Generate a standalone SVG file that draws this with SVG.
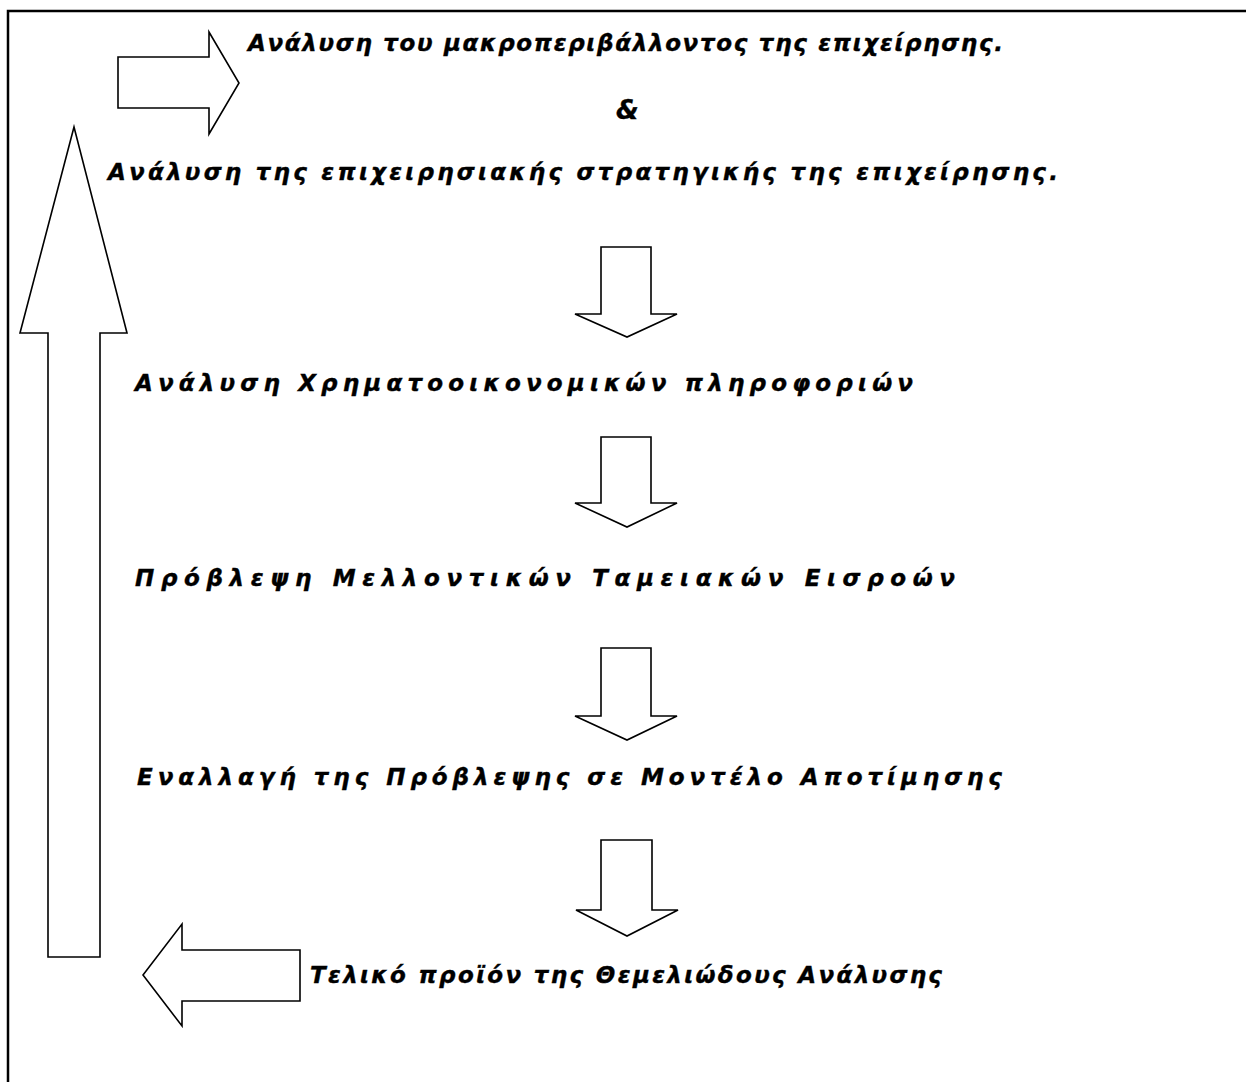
<svg xmlns="http://www.w3.org/2000/svg" width="1246" height="1082" viewBox="0 0 1246 1082">
<style>
.frame{fill:none;stroke:#000;stroke-width:2.5}
.arr{fill:#fff;stroke:#000;stroke-width:1.6;stroke-linejoin:miter}
.t{font-family:"DejaVu Sans","Noto Sans",sans-serif;font-weight:bold;font-style:italic;font-size:23px;fill:#000;stroke:#000;stroke-width:0.4}
</style>
<rect width="1246" height="1082" fill="#fff"/>
<path class="frame" d="M8,1082 V11 H1246"/>
<g id="connectors">
<polygon id="arrow-right-top" class="arr" points="118,57 209,57 209,32 239,83 209,134 209,108 118,108"/>
<polygon id="arrow-up-left" class="arr" points="48,957 48,333 20,333 74,127 127,333 100,333 100,957"/>
<polygon id="arrow-left-bottom" class="arr" points="300,950 182,950 182,924 143,975 182,1026 182,1001 300,1001"/>
<polygon id="arrow-down-1" class="arr" points="601,247 651,247 651,314 677,314 627,337 575,314 601,314"/>
<polygon id="arrow-down-2" class="arr" points="601,437 651,437 651,503 677,503 627,527 575,503 601,503"/>
<polygon id="arrow-down-3" class="arr" points="601,648 651,648 651,716 677,716 627,740 575,716 601,716"/>
<polygon id="arrow-down-4" class="arr" points="601,840 652,840 652,910 678,910 627,936 576,910 601,910"/>
</g>
<g id="node-macro"><text class="t" x="248" y="51" textLength="755" lengthAdjust="spacing">Ανάλυση του μακροπεριβάλλοντος της επιχείρησης.</text></g>
<g id="node-amp"><text class="t" x="616" y="119" style="font-size:26px">&amp;</text></g>
<g id="node-strategy"><text class="t" x="108" y="180" textLength="950" lengthAdjust="spacing">Ανάλυση της επιχειρησιακής στρατηγικής της επιχείρησης.</text></g>
<g id="node-financial"><text class="t" x="135" y="391" textLength="778" lengthAdjust="spacing">Ανάλυση Χρηματοοικονομικών πληροφοριών</text></g>
<g id="node-forecast"><text class="t" x="135" y="586" textLength="820" lengthAdjust="spacing">Πρόβλεψη Μελλοντικών Ταμειακών Εισροών</text></g>
<g id="node-model"><text class="t" x="137" y="785" textLength="865" lengthAdjust="spacing">Εναλλαγή της Πρόβλεψης σε Μοντέλο Αποτίμησης</text></g>
<g id="node-final"><text class="t" x="310" y="983" textLength="632" lengthAdjust="spacing">Τελικό προϊόν της Θεμελιώδους Ανάλυσης</text></g>
</svg>
